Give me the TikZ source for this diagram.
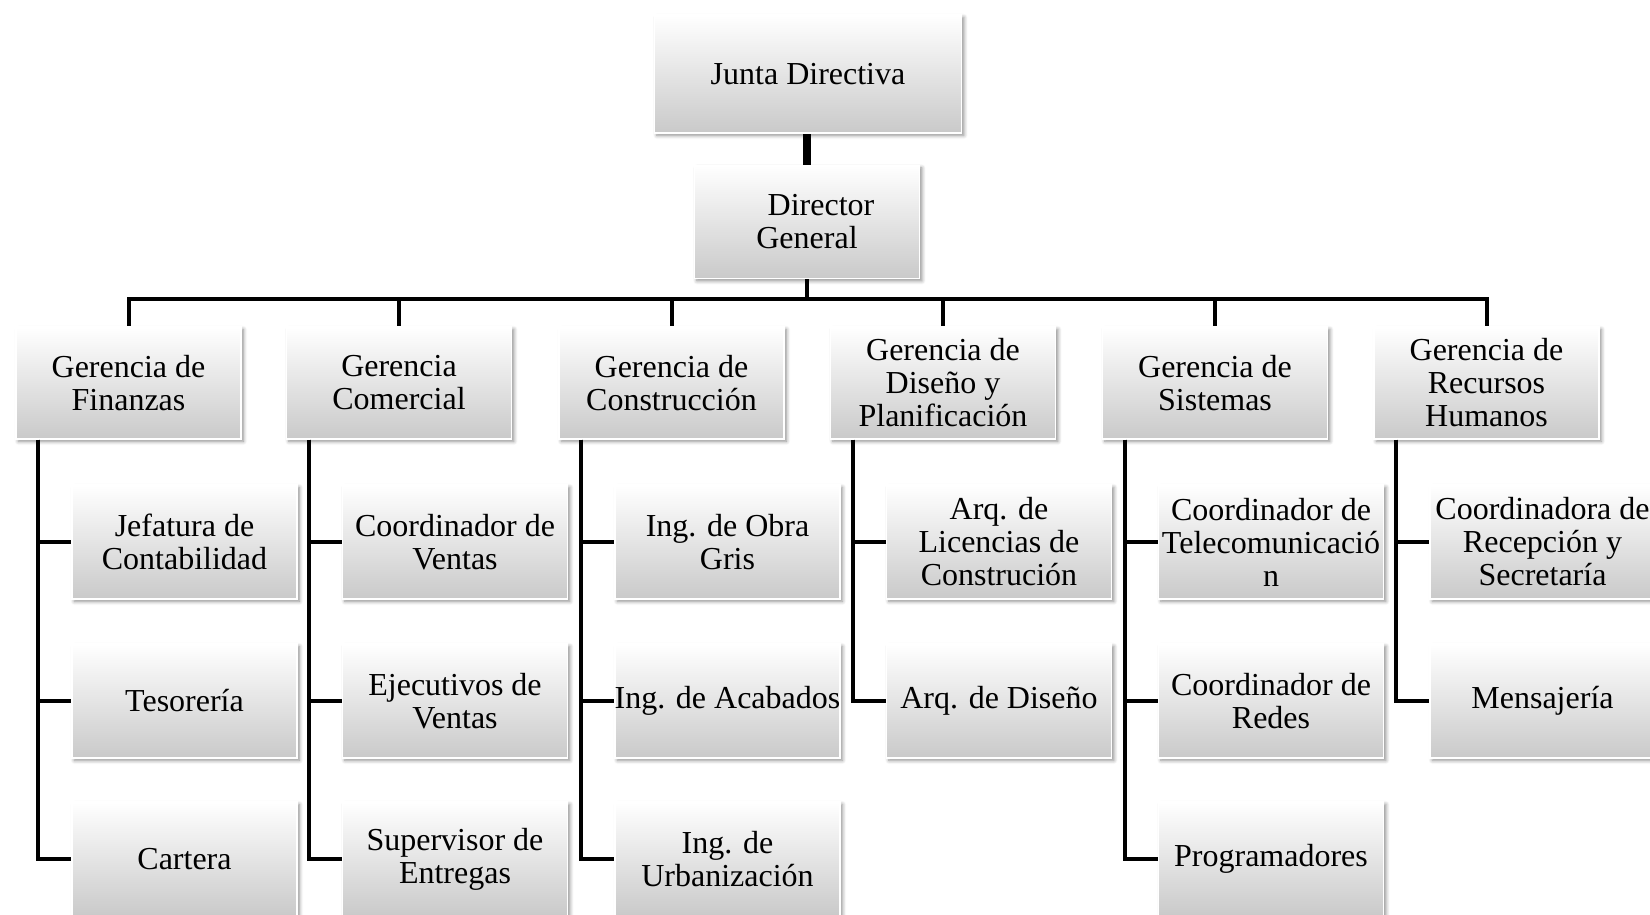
\documentclass[tikz,border=0pt]{standalone}
\usepackage{fontspec}
\setmainfont{Liberation Serif}
\usetikzlibrary{positioning,shadows.blur}

\tikzset{
  box/.style={rectangle,align=center,inner ysep=1pt,inner xsep=-4pt,
    minimum width=112.5pt,minimum height=56pt,
    top color=white,bottom color=black!21,draw=white,line width=0.7pt,
    blur shadow={shadow xshift=1.2pt,shadow yshift=-1.2pt,
      shadow blur steps=6,shadow opacity=45},
    font=\fontsize{16}{16.5}\selectfont},
  subbox/.style={box,minimum height=57pt},
  conn/.style={line width=2pt},
  bigconn/.style={line width=4pt},
}

\begin{document}
\begin{tikzpicture}[x=0.5pt,y=-0.5pt]
  \useasboundingbox (0,0) rectangle (1650,915);
%
  \node [box,minimum width=153.5pt,minimum height=59pt] (jd) at (808,74)
        {Junta Directiva} ;
  \node [box,minimum height=56.5pt] (dg) at (807,222)
        {\hspace*{14pt}Director\\General} ;
%
  \node [box] (gfin) at (128.5,383)  {Gerencia de\\Finanzas} ;
  \node [box] (gcom) at (399,383)    {Gerencia\\Comercial} ;
  \node [box] (gcon) at (671.5,383)  {Gerencia de\\Construcción} ;
  \node [box] (gdis) at (943,383)    {Gerencia de\\Diseño y\\Planificación} ;
  \node [box] (gsis) at (1215,383)   {Gerencia de\\Sistemas} ;
  \node [box] (grh)  at (1486.5,383) {Gerencia de\\Recursos\\Humanos} ;
%
  \node [subbox] (fin1) at (184.5,542) {Jefatura de\\Contabilidad} ;
  \node [subbox] (fin2) at (184.5,701) {Tesorería} ;
  \node [subbox] (fin3) at (184.5,859) {Cartera} ;
%
  \node [subbox] (com1) at (455,542) {Coordinador de\\Ventas} ;
  \node [subbox] (com2) at (455,701) {Ejecutivos de\\Ventas} ;
  \node [subbox] (com3) at (455,859) {Supervisor de\\Entregas} ;
%
  \node [subbox] (con1) at (727.5,542) {Ing. de Obra\\Gris} ;
  \node [subbox] (con2) at (727.5,701) {Ing. de Acabados} ;
  \node [subbox] (con3) at (727.5,859) {Ing. de\\Urbanización} ;
%
  \node [subbox] (dis1) at (999,542) {Arq. de\\Licencias de\\Construción} ;
  \node [subbox] (dis2) at (999,701) {Arq. de Diseño} ;
%
  \node [subbox] (sis1) at (1271,542) {Coordinador de\\Telecomunicació\\n} ;
  \node [subbox] (sis2) at (1271,701) {Coordinador de\\Redes} ;
  \node [subbox] (sis3) at (1271,859) {Programadores} ;
%
  \node [subbox] (rh1) at (1542.5,542) {Coordinadora de\\Recepción y\\Secretaría} ;
  \node [subbox] (rh2) at (1542.5,701) {Mensajería} ;
%
  \draw [bigconn] (dg.north) -- (dg.north |- jd.south) ;
%
  \foreach \g in {gfin,gcom,gcon,gdis,gsis,grh}
    \draw [conn] (dg.south) -- ++(0,20) -| (\g.north) ;
%
  \draw [conn] ([xshift=11.5pt]gfin.south west) |- (fin1.west) ;
  \draw [conn] ([xshift=11.5pt]gfin.south west) |- (fin2.west) ;
  \draw [conn] ([xshift=11.5pt]gfin.south west) |- (fin3.west) ;
%
  \draw [conn] ([xshift=11.5pt]gcom.south west) |- (com1.west) ;
  \draw [conn] ([xshift=11.5pt]gcom.south west) |- (com2.west) ;
  \draw [conn] ([xshift=11.5pt]gcom.south west) |- (com3.west) ;
%
  \draw [conn] ([xshift=11.5pt]gcon.south west) |- (con1.west) ;
  \draw [conn] ([xshift=11.5pt]gcon.south west) |- (con2.west) ;
  \draw [conn] ([xshift=11.5pt]gcon.south west) |- (con3.west) ;
%
  \draw [conn] ([xshift=11.5pt]gdis.south west) |- (dis1.west) ;
  \draw [conn] ([xshift=11.5pt]gdis.south west) |- (dis2.west) ;
%
  \draw [conn] ([xshift=11.5pt]gsis.south west) |- (sis1.west) ;
  \draw [conn] ([xshift=11.5pt]gsis.south west) |- (sis2.west) ;
  \draw [conn] ([xshift=11.5pt]gsis.south west) |- (sis3.west) ;
%
  \draw [conn] ([xshift=11.5pt]grh.south west) |- (rh1.west) ;
  \draw [conn] ([xshift=11.5pt]grh.south west) |- (rh2.west) ;
%
\end{tikzpicture}
\end{document}
